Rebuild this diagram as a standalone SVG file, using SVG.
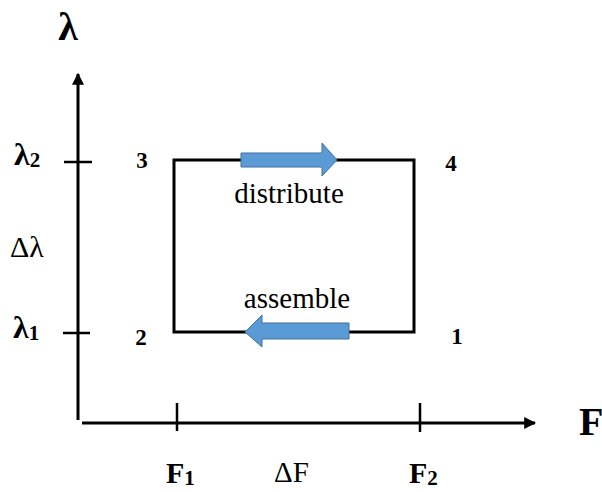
<svg xmlns="http://www.w3.org/2000/svg" width="602" height="492" viewBox="0 0 602 492">
<style>
.ax{stroke:#000;stroke-width:3;fill:none}
.tk{stroke:#000;stroke-width:2.5;fill:none}
.bx{stroke:#000;stroke-width:3;fill:none}
.blk{fill:#5b9bd5;stroke:#41719c;stroke-width:1}
.b{font-family:"Liberation Serif","Times New Roman",serif;font-weight:bold;fill:#000}
.n{font-family:"Liberation Serif","Times New Roman",serif;fill:#000}
</style>
<defs>
<marker id="ah" viewBox="0 0 10 10" refX="9" refY="5" markerWidth="4" markerHeight="4" orient="auto" markerUnits="strokeWidth">
<path d="M0,0 L10,5 L0,10 z" fill="#000"/>
</marker>
</defs>
<g id="connectors">
<line class="ax" x1="78" y1="420" x2="78" y2="74" marker-end="url(#ah)"/>
<line class="ax" x1="82" y1="423" x2="535" y2="423" marker-end="url(#ah)"/>
<line class="tk" x1="64" y1="162" x2="92" y2="162"/>
<line class="tk" x1="63" y1="333" x2="90" y2="333"/>
<line class="tk" x1="177" y1="403" x2="177" y2="431"/>
<line class="tk" x1="420" y1="403" x2="420" y2="432"/>
</g>
<g id="cycle">
<rect class="bx" x="174" y="160" width="240" height="172"/>
</g>
<g id="distribute">
<path class="blk" d="M241,153 H322 V143 L337,160 L322,176 V167 H241 Z"/>
<text class="n" x="289" y="203" font-size="29" text-anchor="middle">distribute</text>
</g>
<g id="assemble">
<path class="blk" d="M349,323 H262 V315 L245,332 L262,347 V339 H349 Z"/>
<text class="n" x="297" y="308" font-size="29" text-anchor="middle">assemble</text>
</g>
<g id="corners">
<text class="b" x="142" y="168" font-size="23" text-anchor="middle">3</text>
<text class="b" x="451" y="171" font-size="23" text-anchor="middle">4</text>
<text class="b" x="141" y="345" font-size="23" text-anchor="middle">2</text>
<text class="b" x="457" y="344" font-size="23" text-anchor="middle">1</text>
</g>
<g id="axis-labels">
<text class="b" x="68" y="40" font-size="40" text-anchor="middle">λ</text>
<text class="b" x="14" y="165" font-size="32">λ<tspan font-size="21" dy="2">2</tspan></text>
<text class="n" x="10" y="257" font-size="30">Δλ</text>
<text class="b" x="13" y="338" font-size="32">λ<tspan font-size="21" dy="2">1</tspan></text>
<text class="b" x="579" y="435" font-size="40">F</text>
<text class="b" x="166" y="483" font-size="30">F<tspan font-size="21" dy="2">1</tspan></text>
<text class="n" x="274" y="482" font-size="29">ΔF</text>
<text class="b" x="409" y="483" font-size="30">F<tspan font-size="21" dy="2">2</tspan></text>
</g>
</svg>
